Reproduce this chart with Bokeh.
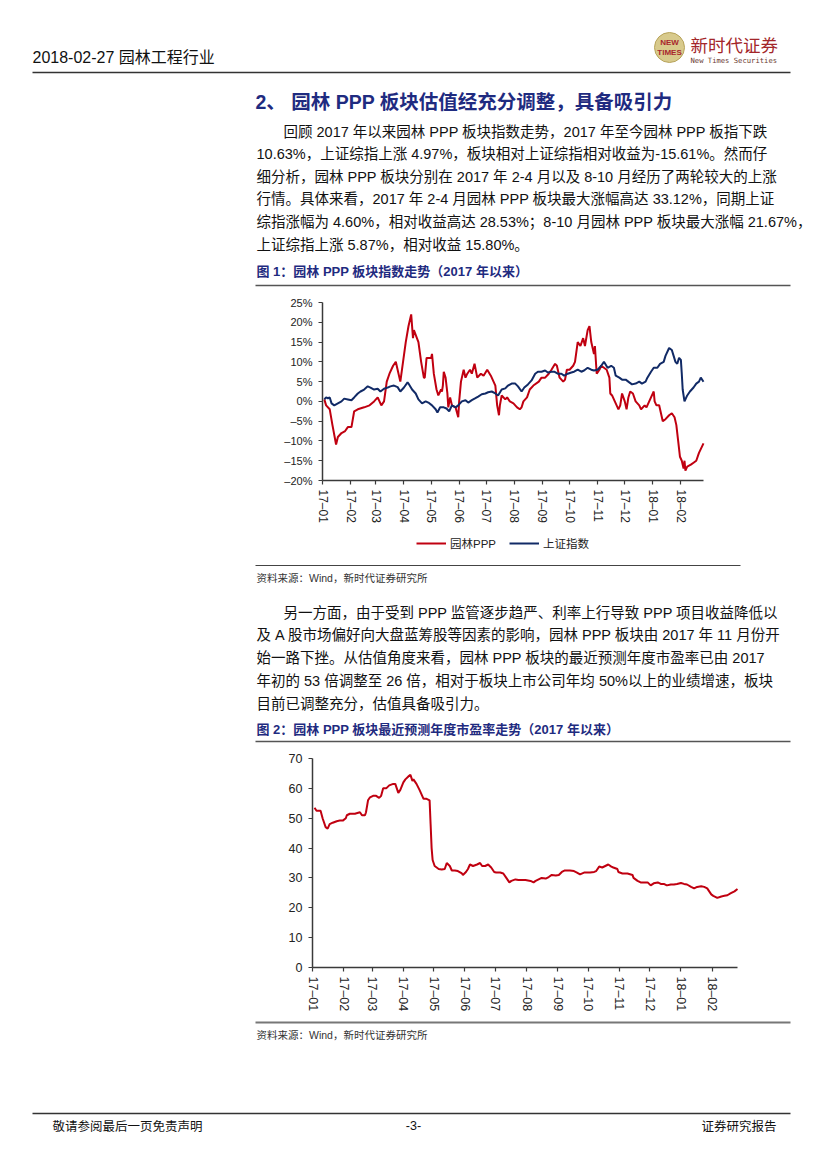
import pandas as pd
from bokeh.plotting import figure
from bokeh.models import (Range1d, FixedTicker, DatetimeTickFormatter, DatetimeAxis, LinearAxis,
                          Legend, LegendItem)
from bokeh.core.properties import value
from bokeh.embed import file_html
from bokeh.resources import INLINE

# ---------------- data ----------------
month_labels = ["17-01", "17-02", "17-03", "17-04", "17-05", "17-06", "17-07",
                "17-08", "17-09", "17-10", "17-11", "17-12", "18-01", "18-02"]

red_dates = [
    "2017-01-03", "2017-01-05", "2017-01-09", "2017-01-12", "2017-01-16", "2017-01-18", "2017-01-22", "2017-01-26", "2017-01-29",
    "2017-02-02", "2017-02-05", "2017-02-09", "2017-02-16", "2017-02-22", "2017-02-27",
    "2017-03-03", "2017-03-07", "2017-03-10", "2017-03-13", "2017-03-16", "2017-03-20", "2017-03-23", "2017-03-25", "2017-03-28", "2017-03-31",
    "2017-04-03", "2017-04-06", "2017-04-09", "2017-04-11", "2017-04-12", "2017-04-17", "2017-04-20", "2017-04-23", "2017-04-24", "2017-04-26",
    "2017-05-01", "2017-05-02", "2017-05-04", "2017-05-07", "2017-05-09", "2017-05-12", "2017-05-13", "2017-05-14", "2017-05-15", "2017-05-17", "2017-05-19", "2017-05-20", "2017-05-22", "2017-05-24", "2017-05-28", "2017-05-31",
    "2017-06-01", "2017-06-03", "2017-06-06", "2017-06-08", "2017-06-10", "2017-06-13", "2017-06-15", "2017-06-18", "2017-06-21", "2017-06-25", "2017-06-28",
    "2017-07-02", "2017-07-06", "2017-07-09", "2017-07-11", "2017-07-13", "2017-07-15", "2017-07-16", "2017-07-18", "2017-07-22", "2017-07-24", "2017-07-27", "2017-07-31",
    "2017-08-04", "2017-08-07", "2017-08-09", "2017-08-11", "2017-08-15", "2017-08-18", "2017-08-22", "2017-08-28", "2017-08-31",
    "2017-09-04", "2017-09-08", "2017-09-11", "2017-09-15", "2017-09-17", "2017-09-20", "2017-09-24", "2017-09-26", "2017-09-28",
    "2017-10-01", "2017-10-05", "2017-10-07", "2017-10-10", "2017-10-13", "2017-10-16", "2017-10-18", "2017-10-21", "2017-10-23", "2017-10-25", "2017-10-28", "2017-10-29", "2017-10-31",
    "2017-11-03", "2017-11-05", "2017-11-11", "2017-11-14", "2017-11-15", "2017-11-17", "2017-11-20", "2017-11-22", "2017-11-24", "2017-11-26", "2017-11-28",
    "2017-12-01", "2017-12-03", "2017-12-05", "2017-12-07", "2017-12-10", "2017-12-13", "2017-12-17", "2017-12-19", "2017-12-23", "2017-12-25", "2017-12-28", "2017-12-30",
    "2018-01-02", "2018-01-03", "2018-01-05", "2018-01-08", "2018-01-12", "2018-01-15", "2018-01-19", "2018-01-22", "2018-01-25", "2018-01-27", "2018-01-29", "2018-01-31",
    "2018-02-02", "2018-02-04", "2018-02-05", "2018-02-06", "2018-02-08", "2018-02-12", "2018-02-15", "2018-02-18", "2018-02-21", "2018-02-26"]
red_vals = [
    0.5, -1.0, -2.0, -6.0, -10.9, -9.0, -8.0, -7.5, -6.5,
    -6.5, -2.5, -2.0, -1.5, -1.0, 0.0,
    1.0, -1.0, 0.0, 5.0, 7.0, 9.0, 10.0, 8.0, 5.0, 10.0,
    15.0, 19.0, 22.0, 16.0, 18.0, 15.0, 10.0, 6.0, 6.0, 11.0,
    11.0, 12.0, 7.0, 3.0, 1.5, 3.0, 2.5, 4.0, 7.5, 6.0, 2.0, -1.5, 1.0, -1.0, -1.5, -4.0,
    0.0, 5.0, 8.0, 6.0, 7.0, 8.0, 7.0, 9.5, 6.0, 7.0, 6.5,
    8.0, 6.5, 5.0, 4.0, -1.0, -3.5, -1.0, 1.5, 0.5, 1.0, 0.0, -0.5,
    -1.5, -2.0, -1.5, 0.0, 1.0, 3.0, 4.0, 5.0, 6.0,
    6.0, 7.0, 8.0, 9.5, 9.0, 6.0, 5.0, 5.5, 8.0,
    8.0, 9.0, 10.0, 15.0, 14.0, 16.0, 14.0, 18.0, 19.0, 15.0, 12.0, 14.0, 7.0,
    8.0, 9.0, 8.0, 6.0, 2.0, 1.5, 0.0, -1.0, -2.0, -1.0, 2.0,
    0.0, -2.0, 1.0, 2.5, 2.0, 0.0, -1.0, -2.0, -1.0, -1.5, 0.0, 1.0,
    2.5, 0.0, -1.0, -1.0, -5.0, -4.5, -3.5, -3.0, -4.0, -6.0, -10.0, -14.0,
    -15.0, -17.0, -15.0, -17.5, -16.5, -16.0, -15.5, -15.0, -13.0, -10.63]

blue_dates = [
    "2017-01-03", "2017-01-05", "2017-01-07", "2017-01-09", "2017-01-11", "2017-01-14", "2017-01-18", "2017-01-22", "2017-01-25", "2017-01-29",
    "2017-02-02", "2017-02-05", "2017-02-09", "2017-02-12", "2017-02-16", "2017-02-20", "2017-02-23", "2017-02-27",
    "2017-03-03", "2017-03-06", "2017-03-10", "2017-03-14", "2017-03-17", "2017-03-21", "2017-03-25", "2017-03-28",
    "2017-04-01", "2017-04-05", "2017-04-06", "2017-04-10", "2017-04-14", "2017-04-17", "2017-04-21", "2017-04-25", "2017-04-28",
    "2017-05-02", "2017-05-06", "2017-05-08", "2017-05-11", "2017-05-15", "2017-05-18", "2017-05-21", "2017-05-24", "2017-05-28", "2017-05-31",
    "2017-06-04", "2017-06-08", "2017-06-11", "2017-06-15", "2017-06-19", "2017-06-22", "2017-06-26", "2017-06-30",
    "2017-07-03", "2017-07-07", "2017-07-11", "2017-07-14", "2017-07-18", "2017-07-22", "2017-07-25", "2017-07-29",
    "2017-08-02", "2017-08-05", "2017-08-09", "2017-08-12", "2017-08-16", "2017-08-20", "2017-08-24", "2017-08-27", "2017-08-31",
    "2017-09-04", "2017-09-07", "2017-09-11", "2017-09-14", "2017-09-18", "2017-09-22", "2017-09-25", "2017-09-29",
    "2017-10-03", "2017-10-06", "2017-10-10", "2017-10-14", "2017-10-17", "2017-10-21", "2017-10-25", "2017-10-28",
    "2017-11-01", "2017-11-05", "2017-11-08", "2017-11-12", "2017-11-16", "2017-11-19", "2017-11-21", "2017-11-25", "2017-11-28",
    "2017-12-02", "2017-12-06", "2017-12-09", "2017-12-13", "2017-12-17", "2017-12-20", "2017-12-24", "2017-12-26", "2017-12-30",
    "2018-01-02", "2018-01-06", "2018-01-09", "2018-01-13", "2018-01-15", "2018-01-19", "2018-01-22", "2018-01-24", "2018-01-26", "2018-01-28", "2018-01-30",
    "2018-02-01", "2018-02-02", "2018-02-03", "2018-02-05", "2018-02-08", "2018-02-11", "2018-02-15", "2018-02-18", "2018-02-21", "2018-02-23", "2018-02-26"]
blue_vals = [
    0.5, 1.0, 0.8, 1.0, -0.5, -1.0, -0.5, 0.0, 0.7, 0.5,
    0.3, 1.0, 2.0, 2.5, 3.0, 3.8, 3.5, 3.0,
    3.2, 2.5, 3.2, 3.5, 3.8, 4.0, 3.6, 2.5,
    3.5, 4.8, 4.5, 3.0, 2.0, 0.5, -0.5, 0.0, -0.3,
    -1.0, -2.0, -2.8, -1.5, -1.5, -1.8, -2.5, -1.0, -1.5, -1.0,
    0.0, 0.3, -0.3, 0.3, 0.8, 1.2, 1.8, 2.0,
    2.3, 2.5, 2.0, 1.5, 3.0, 3.3, 4.0, 4.5,
    4.5, 3.8, 2.5, 3.5, 4.3, 5.3, 7.0, 7.5, 7.5,
    7.8, 7.3, 7.5, 7.5, 7.0, 7.0, 6.5, 7.0,
    7.3, 7.5, 8.0, 7.5, 7.8, 8.5, 8.0, 7.8,
    8.0, 9.0, 10.0, 8.5, 9.0, 8.5, 6.5, 6.0, 5.5,
    5.5, 4.8, 4.3, 4.5, 5.0, 4.5, 5.0, 6.0, 7.5,
    8.5, 8.5, 9.5, 10.0, 11.5, 13.5, 13.0, 11.5, 10.0, 9.5, 11.0,
    10.5, 7.0, 3.0, 0.0, 1.5, 2.5, 3.5, 4.5, 5.0, 6.0, 4.97]

pe_dates = [
    "2017-01-03", "2017-01-05", "2017-01-06", "2017-01-09", "2017-01-11", "2017-01-14", "2017-01-16", "2017-01-18", "2017-01-21", "2017-01-25", "2017-01-28", "2017-01-31",
    "2017-02-03", "2017-02-04", "2017-02-07", "2017-02-12", "2017-02-17", "2017-02-19", "2017-02-22", "2017-02-23", "2017-02-25", "2017-02-27",
    "2017-03-02", "2017-03-05", "2017-03-08", "2017-03-10", "2017-03-12", "2017-03-15", "2017-03-18", "2017-03-22", "2017-03-24", "2017-03-27", "2017-03-29",
    "2017-04-01", "2017-04-03", "2017-04-06", "2017-04-08", "2017-04-10", "2017-04-11", "2017-04-14", "2017-04-17", "2017-04-19", "2017-04-21", "2017-04-24", "2017-04-27", "2017-04-28", "2017-04-29", "2017-04-30",
    "2017-05-02", "2017-05-06", "2017-05-09", "2017-05-12", "2017-05-14", "2017-05-17", "2017-05-19", "2017-05-22", "2017-05-25", "2017-05-29", "2017-05-30",
    "2017-06-02", "2017-06-04", "2017-06-06", "2017-06-09", "2017-06-13", "2017-06-16", "2017-06-18", "2017-06-21", "2017-06-24", "2017-06-27", "2017-06-30",
    "2017-07-02", "2017-07-06", "2017-07-09", "2017-07-12", "2017-07-15", "2017-07-17", "2017-07-21", "2017-07-24", "2017-07-27", "2017-07-31",
    "2017-08-05", "2017-08-08", "2017-08-10", "2017-08-13", "2017-08-16", "2017-08-20", "2017-08-23", "2017-08-26", "2017-08-30",
    "2017-09-02", "2017-09-05", "2017-09-08", "2017-09-13", "2017-09-17", "2017-09-20", "2017-09-23", "2017-09-27", "2017-09-30",
    "2017-10-03", "2017-10-07", "2017-10-09", "2017-10-12", "2017-10-15", "2017-10-18", "2017-10-21", "2017-10-24", "2017-10-26", "2017-10-30", "2017-10-31",
    "2017-11-04", "2017-11-09", "2017-11-14", "2017-11-15", "2017-11-19", "2017-11-22", "2017-11-25", "2017-11-29",
    "2017-12-02", "2017-12-05", "2017-12-09", "2017-12-12", "2017-12-15", "2017-12-18", "2017-12-22", "2017-12-25", "2017-12-28",
    "2018-01-01", "2018-01-04", "2018-01-07", "2018-01-11", "2018-01-14", "2018-01-17", "2018-01-21", "2018-01-24", "2018-01-27", "2018-01-29", "2018-01-31",
    "2018-02-02", "2018-02-05", "2018-02-06", "2018-02-10", "2018-02-13", "2018-02-16", "2018-02-19", "2018-02-23", "2018-02-26"]
pe_vals = [
    53.5, 52.5, 52.5, 52.5, 50.0, 47.0, 46.5, 48.0, 48.5, 49.0, 49.2, 49.2,
    50.0, 51.0, 51.5, 51.5, 52.0, 51.0, 51.0, 52.0, 56.0, 57.0,
    57.5, 57.5, 56.8, 57.5, 60.0, 60.0, 61.0, 61.5, 61.5, 58.5, 59.5,
    62.0, 63.0, 64.0, 64.5, 62.5, 63.0, 61.5, 59.5, 58.0, 56.5, 56.5, 56.0, 48.0, 40.0, 36.0,
    34.0, 33.0, 32.8, 33.0, 35.0, 34.0, 32.5, 32.5, 32.3, 31.5, 31.0,
    32.0, 33.0, 34.5, 34.0, 34.5, 35.0, 34.0, 34.0, 34.5, 33.5, 32.0,
    31.8, 31.8, 31.5, 30.0, 28.5, 29.0, 29.5, 29.3, 29.3, 29.3,
    29.0, 28.5, 29.0, 29.5, 30.0, 29.8, 30.3, 31.0, 30.8,
    31.0, 32.0, 32.5, 32.5, 32.3, 31.8, 31.2, 31.8, 31.8,
    31.8, 32.0, 32.3, 33.8, 33.5, 34.0, 34.5, 33.8, 33.5, 33.0, 32.0,
    31.5, 31.5, 31.0, 30.0, 29.0, 28.5, 28.5, 28.5,
    27.5, 28.2, 28.5, 28.0, 28.0, 27.5, 27.8, 27.8, 28.0,
    28.3, 28.0, 27.8, 27.0, 26.5, 27.0, 27.2, 27.0, 26.5, 25.5, 24.5,
    24.0, 23.5, 23.3, 23.8, 24.0, 24.2, 24.8, 25.5, 26.3]

pct_ticks = [-20, -15, -10, -5, 0, 5, 10, 15, 20, 25]
pct_labels = ["\u201320%", "\u201315%", "\u201310%", "\u20135%", "0%", "5%", "10%", "15%", "20%", "25%"]
pe_ticks = [0, 10, 20, 30, 40, 50, 60, 70]

series_names = ["园林PPP", "上证指数"]

header_left = "2018-02-27 园林工程行业"
title_text = "2、  园林 PPP 板块估值经充分调整，具备吸引力"
para1 = [
    "回顾 2017 年以来园林 PPP 板块指数走势，2017 年至今园林 PPP 板指下跌",
    "10.63%，上证综指上涨 4.97%，板块相对上证综指相对收益为-15.61%。然而仔",
    "细分析，园林 PPP 板块分别在 2017 年 2-4 月以及 8-10 月经历了两轮较大的上涨",
    "行情。具体来看，2017 年 2-4 月园林 PPP 板块最大涨幅高达 33.12%，同期上证",
    "综指涨幅为 4.60%，相对收益高达 28.53%；8-10 月园林 PPP 板块最大涨幅 21.67%，",
    "上证综指上涨 5.87%，相对收益 15.80%。"]
cap1 = "图 1：园林 PPP 板块指数走势（2017 年以来）"
source_text = "资料来源：Wind，新时代证券研究所"
para2 = [
    "另一方面，由于受到 PPP 监管逐步趋严、利率上行导致 PPP 项目收益降低以",
    "及 A 股市场偏好向大盘蓝筹股等因素的影响，园林 PPP 板块由 2017 年 11 月份开",
    "始一路下挫。从估值角度来看，园林 PPP 板块的最近预测年度市盈率已由 2017",
    "年初的 53 倍调整至 26 倍，相对于板块上市公司年均 50%以上的业绩增速，板块",
    "目前已调整充分，估值具备吸引力。"]
cap2 = "图 2：园林 PPP 板块最近预测年度市盈率走势（2017 年以来）"
footer = ["敬请参阅最后一页免责声明", "-3-", "证券研究报告"]

# ---------------- style / layout (screen pixel coordinates) ----------------
W, H = 827, 1169
BODY = "Liberation Sans, Noto Sans CJK SC"
CJK = "Noto Sans CJK SC"
NAVY = "#1F2B80"
RED = "#C00010"
BLUE = "#112A66"
AX = "#3A3A3A"

p = figure(width=W, height=H, x_range=Range1d(0, W), y_range=Range1d(H, 0),
           x_axis_location=None, y_axis_location=None, min_border=0,
           output_backend="svg", toolbar_location=None)
p.grid.visible = False
p.outline_line_color = None


def put(x, y, s, size, color="#111111", font=BODY, bold=False, align="left"):
    p.text(x=[x], y=[y], text=[s], text_font=value(font), text_font_size=f"{size}px",
           text_color=color, text_baseline="middle", text_align=align,
           text_font_style="bold" if bold else "normal")


def rule(x0, x1, y, color="#333333", w=1.5):
    p.segment(x0=[x0], y0=[y], x1=[x1], y1=[y], line_color=color, line_width=w)


def x_range_for(name, d0, d1, px0, px1):
    a = pd.Timestamp(d0).value / 1e6
    b = pd.Timestamp(d1).value / 1e6
    k = (b - a) / (px1 - px0)
    s = a - px0 * k
    p.extra_x_ranges[name] = Range1d(s, s + W * k)
    return a, b


def y_range_for(name, v0, v1, py0, py1):
    # v0 (low value) drawn at screen y py0, v1 (high value) at screen y py1
    k = (v1 - v0) / (py0 - py1)
    end = v1 + py1 * k
    p.extra_y_ranges[name] = Range1d(end - H * k, end)


month_ts = [pd.Timestamp("20" + m + "-01") for m in month_labels]
tick_ms = [t.value / 1e6 for t in month_ts]
fmt = "%y\u2013%m"
dt_fmt = DatetimeTickFormatter(microseconds=fmt, milliseconds=fmt, seconds=fmt, minsec=fmt,
                               minutes=fmt, hourmin=fmt, hours=fmt, days=fmt, months=fmt, years=fmt)


def style_axis(ax, size, standoff):
    ax.axis_line_color = AX
    ax.axis_line_width = 1.5
    ax.major_tick_line_color = AX
    ax.major_tick_line_width = 1.2
    ax.major_tick_out = 4
    ax.major_tick_in = 0
    ax.minor_tick_line_color = None
    ax.major_label_text_font = "Liberation Sans"
    ax.major_label_text_font_size = f"{size}px"
    ax.major_label_text_color = "#222222"
    ax.major_label_standoff = standoff


def chart(xname, yname, frame_x0, frame_x1, frame_top, frame_bot, ylo, yhi, yticks, ysize, xsize):
    a, b = x_range_for(xname, "2017-01-01", "2018-02-26", frame_x0, frame_x1)
    y_range_for(yname, ylo, yhi, frame_bot, frame_top)
    xa = DatetimeAxis(x_range_name=xname, fixed_location=frame_bot, bounds=(a, b),
                      ticker=FixedTicker(ticks=tick_ms), formatter=dt_fmt)
    style_axis(xa, xsize, 5)
    xa.major_label_orientation = "vertical"
    p.add_layout(xa, "below")
    ya = LinearAxis(y_range_name=yname, fixed_location=frame_x0, bounds=(ylo, yhi),
                    ticker=FixedTicker(ticks=yticks))
    style_axis(ya, ysize, 6)
    p.add_layout(ya, "left")
    return ya


# ---------------- header ----------------
put(32, 57, header_left, 16)
p.scatter(x=[669], y=[47], size=30, fill_color="#D8CA8C", line_color="#B7A35A", line_width=1)
put(669, 42, "NEW", 8, "#A8262C", "Liberation Sans", True, "center")
put(669, 52, "TIMES", 8, "#A8262C", "Liberation Sans", True, "center")
put(690, 44, "新时代证券", 17.5, "#A3262A", CJK)
put(690, 60, "New Times Securities", 7.2, "#6A3A30", "DejaVu Sans Mono")
rule(32, 790, 72, "#333333", 1.5)

# ---------------- section 1 text ----------------
put(255, 101, title_text, 19.5, NAVY, BODY, True)
for i, line in enumerate(para1):
    put(283 if i == 0 else 256, 131 + 22.6 * i, line, 14.5)
put(256, 271, cap1, 13, NAVY, BODY, True)
rule(255, 790, 285, "#555555", 1.5)

# ---------------- chart 1 ----------------
ya1 = chart("c1x", "c1y", 322, 703, 302, 480, -20, 25, pct_ticks, 11, 12)
ya1.major_label_overrides = {t: l for t, l in zip(pct_ticks, pct_labels)}
r_red = p.line(pd.to_datetime(red_dates), red_vals, x_range_name="c1x", y_range_name="c1y",
               line_color=RED, line_width=2)
r_blue = p.line(pd.to_datetime(blue_dates), blue_vals, x_range_name="c1x", y_range_name="c1y",
                line_color=BLUE, line_width=2)
leg = Legend(items=[LegendItem(label=series_names[0], renderers=[r_red]),
                    LegendItem(label=series_names[1], renderers=[r_blue])],
             orientation="horizontal", location=(416, H - 553), border_line_color=None,
             background_fill_alpha=0, label_text_font=BODY, label_text_font_size="11.5px",
             label_text_color="#222222", glyph_width=30, glyph_height=20, label_standoff=4,
             spacing=13, padding=0, margin=0)
p.add_layout(leg, "center")
rule(255, 740, 565, "#444444", 1.2)
put(256, 577, source_text, 10.5, "#333333")

# ---------------- section 2 text ----------------
for i, line in enumerate(para2):
    put(283 if i == 0 else 256, 612 + 22.8 * i, line, 14.5)
put(256, 729, cap2, 13, NAVY, BODY, True)
rule(255, 790, 741, "#555555", 1.5)

# ---------------- chart 2 ----------------
chart("c2x", "c2y", 312, 737, 758, 967, 0, 70, pe_ticks, 12.5, 12.5)
p.line(pd.to_datetime(pe_dates), pe_vals, x_range_name="c2x", y_range_name="c2y",
       line_color=RED, line_width=2)
rule(255, 790, 1022, "#777777", 2)
put(256, 1034, source_text, 10.5, "#333333")

# ---------------- footer ----------------
rule(32, 790, 1113, "#333333", 1.5)
put(52, 1125, footer[0], 12.5, "#111111", CJK)
put(413, 1125, footer[1], 12.5, "#111111", "Liberation Sans", False, "center")
put(776, 1125, footer[2], 12.5, "#111111", CJK, False, "right")

open("out.html", "w").write(file_html(p, INLINE))
